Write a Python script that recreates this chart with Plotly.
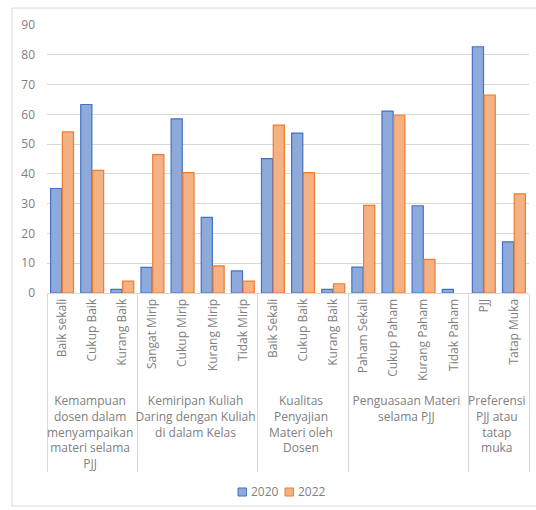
import plotly.graph_objects as go

# Survey groups (outer axis level) and the answer options inside each group
groups = [
    "Kemampuan<br>dosen dalam<br>menyampaikan<br>materi selama<br>PJJ",
    "Kemiripan Kuliah<br>Daring dengan Kuliah<br>di dalam Kelas",
    "Kualitas<br>Penyajian<br>Materi oleh<br>Dosen",
    "Penguasaan Materi<br>selama PJJ",
    "Preferensi<br>PJJ atau<br>tatap<br>muka",
]
options = [
    ["Baik sekali", "Cukup Baik", "Kurang Baik"],
    ["Sangat Mirip", "Cukup Mirip", "Kurang Mirip", "Tidak Mirip"],
    ["Baik Sekali", "Cukup Baik", "Kurang Baik"],
    ["Paham Sekali", "Cukup Paham", "Kurang Paham", "Tidak Paham"],
    ["PJJ", "Tatap Muka"],
]

# Percentages per year, in the same order as the options above
series_names = ["2020", "2022"]
values_2020 = [35.1, 63.3, 1.2, 8.6, 58.5, 25.4, 7.4, 45.1, 53.7, 1.2, 8.7, 61.1, 29.3, 1.2, 82.7, 17.2]
values_2022 = [54.1, 41.2, 4.0, 46.5, 40.4, 9.1, 4.0, 56.4, 40.4, 3.1, 29.4, 59.7, 11.3, 0.0, 66.5, 33.3]

y_ticks = [0, 10, 20, 30, 40, 50, 60, 70, 80, 90]

# Multicategory axes order inner labels by their first appearance across all
# groups, so labels repeated in a later group get an invisible zero-width
# suffix to keep each group's own order.
outer, inner, seen = [], [], set()
for g, opts in zip(groups, options):
    for o in opts:
        label = o
        while label in seen:
            label += "\u200b"
        seen.add(label)
        outer.append(g)
        inner.append(label)

text_color = "#808080"
font_family = "'Open Sans', Lato, sans-serif"
fills = ["#8eaadb", "#f4b183"]
edges = ["#4472c4", "#ed7d31"]

fig = go.Figure()
for name, vals, fc, ec in zip(series_names, [values_2020, values_2022], fills, edges):
    fig.add_trace(go.Bar(
        name=name, x=[outer, inner], y=vals,
        # no outline on empty bars, so a zero value leaves no sliver
        marker=dict(color=fc, line=dict(color=ec, width=[0 if v == 0 else 1.2 for v in vals])),
    ))

# Compact legend below the chart: small squares with the series names
legend_shapes, legend_notes = [], []
for i, (name, fc, ec) in enumerate(zip(series_names, fills, edges)):
    x0 = 0.3963 + i * 0.0975
    legend_shapes.append(dict(type="rect", xref="paper", yref="paper",
                              x0=x0, x1=x0 + 0.0175, y0=-0.7575, y1=-0.7276,
                              fillcolor=fc, line=dict(color=ec, width=1)))
    legend_notes.append(dict(text=name, xref="paper", yref="paper",
                             x=x0 + 0.0235, y=-0.7425, xanchor="left", yanchor="middle",
                             showarrow=False, font=dict(size=12, color=text_color)))

fig.update_layout(
    width=536, height=510,
    margin=dict(l=47, r=7, t=25, b=217),
    paper_bgcolor="white", plot_bgcolor="white",
    barmode="group", bargap=0.22, bargroupgap=0.05,
    font=dict(family=font_family, color=text_color, size=12),
    showlegend=False,
    annotations=legend_notes,
    shapes=[dict(type="rect", xref="paper", yref="paper",
                 x0=-0.0726, x1=1.02, y0=-0.795, y1=1.063,
                 line=dict(color="#d9d9d9", width=1), fillcolor="rgba(0,0,0,0)",
                 layer="below")] + legend_shapes,
)

fig.update_xaxes(
    type="multicategory",
    tickangle=-90,
    tickfont=dict(size=12, color=text_color, family=font_family),
    showline=True, linecolor="#d9d9d9", linewidth=1,
    showdividers=True, dividercolor="#d9d9d9", dividerwidth=1,
    showgrid=False,
)
fig.update_yaxes(
    range=[0, 90], tickvals=y_ticks,
    showgrid=True, gridcolor="#d9d9d9", gridwidth=1,
    zeroline=False, showline=False,
    tickfont=dict(size=12, color=text_color, family=font_family),
    ticks="", ticklabelstandoff=11,
)

fig.write_html("out.html")
